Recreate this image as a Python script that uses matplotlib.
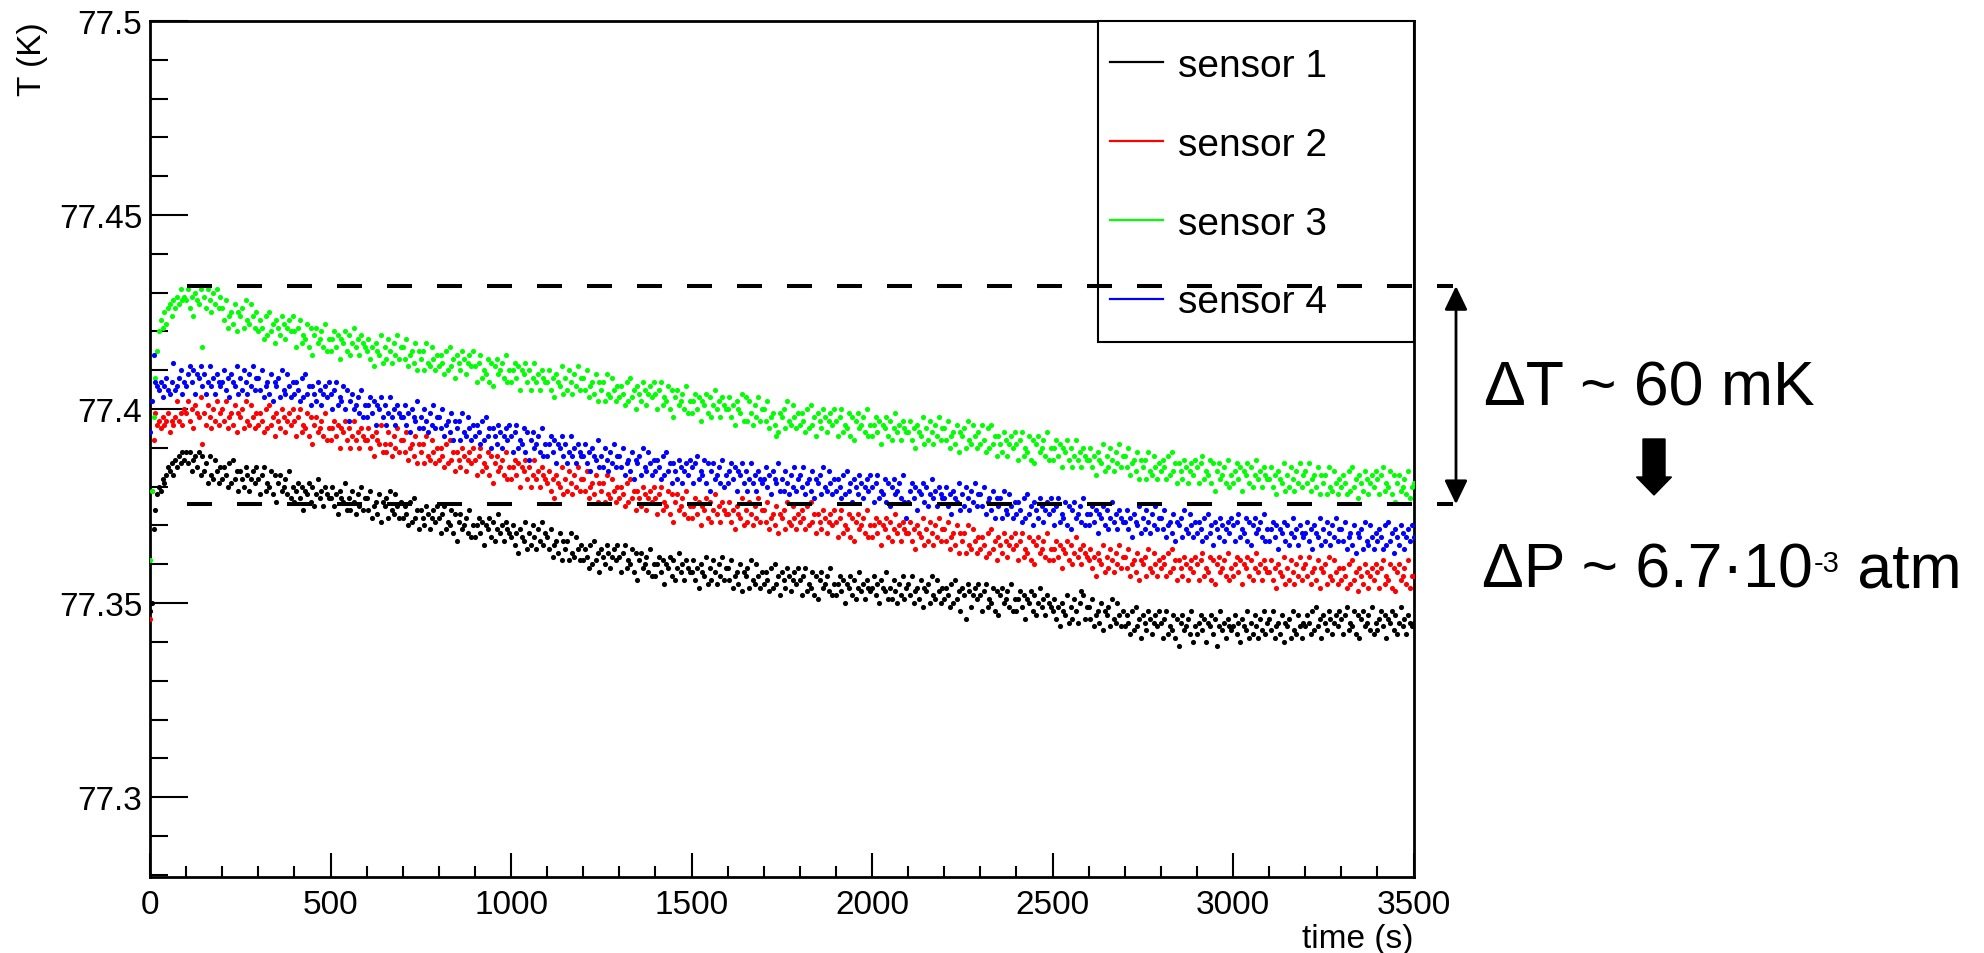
import numpy as np
import matplotlib
matplotlib.use("Agg")
import matplotlib.pyplot as plt
from matplotlib.ticker import MultipleLocator
from matplotlib.lines import Line2D
from matplotlib.patches import Rectangle, FancyArrow

plt.rcParams['font.family'] = ['Liberation Sans', 'DejaVu Sans']
plt.rcParams['lines.scale_dashes'] = False

# ---------------- data (temperature offsets in mK above T0) ----------------
T0 = 77.300          # K
t_start, t_end = 0.0, 3500.0   # s, sampling window (uniform sampling, 5 s)

sensor3_mK = [  # green
 61, 79, 98, 108, 115, 120, 123, 121, 125, 122, 126, 127, 124, 128, 126, 129, 127, 131, 128, 129,
 128, 131, 126, 129, 124, 130, 128, 127, 131, 116, 129, 126, 131, 128, 125, 130, 127, 131, 126, 129,
 126, 123, 128, 121, 124, 125, 122, 127, 120, 125, 124, 126, 121, 128, 123, 122, 127, 124, 121, 125,
 120, 123, 121, 118, 124, 119, 125, 120, 122, 117, 123, 121, 119, 124, 122, 118, 121, 123, 120, 124,
 120, 116, 121, 123, 117, 119, 118, 122, 116, 121, 114, 119, 121, 117, 118, 120, 116, 122, 115, 118,
 115, 118, 120, 116, 119, 113, 118, 117, 120, 115, 119, 114, 117, 121, 116, 118, 114, 119, 117, 116,
 115, 118, 113, 116, 111, 117, 115, 114, 119, 112, 116, 113, 118, 115, 112, 117, 114, 119, 113, 116,
 116, 113, 118, 111, 114, 115, 112, 117, 110, 115, 113, 115, 110, 117, 112, 111, 116, 113, 110, 114,
 111, 114, 112, 109, 115, 110, 116, 111, 113, 108, 114, 112, 110, 115, 113, 109, 112, 114, 111, 115,
 111, 107, 112, 114, 108, 110, 109, 113, 107, 112, 106, 111, 113, 109, 110, 112, 108, 114, 107, 110,
 107, 110, 112, 108, 111, 105, 110, 109, 112, 107, 110, 105, 108, 112, 107, 109, 105, 110, 108, 107,
 107, 110, 105, 108, 103, 109, 107, 106, 111, 104, 108, 105, 110, 107, 104, 109, 106, 111, 105, 108,
 108, 105, 110, 103, 106, 107, 104, 109, 102, 107, 105, 107, 102, 109, 104, 103, 108, 105, 102, 106,
 103, 106, 104, 101, 107, 102, 108, 103, 105, 100, 106, 104, 102, 107, 105, 101, 104, 106, 103, 107,
 104, 100, 105, 107, 101, 103, 102, 106, 100, 105, 98, 103, 105, 101, 102, 104, 100, 106, 99, 102,
 99, 102, 104, 100, 103, 97, 102, 101, 104, 99, 103, 98, 101, 105, 100, 102, 98, 103, 101, 100,
 100, 103, 98, 101, 96, 102, 100, 99, 104, 97, 103, 97, 102, 99, 96, 101, 98, 103, 97, 100,
 100, 97, 102, 95, 98, 99, 96, 93, 94, 99, 98, 100, 95, 102, 97, 96, 101, 98, 95, 99,
 96, 99, 97, 94, 100, 95, 101, 96, 98, 93, 99, 97, 95, 100, 98, 94, 97, 99, 96, 100,
 97, 93, 98, 100, 94, 96, 95, 99, 93, 98, 92, 97, 99, 95, 96, 98, 94, 100, 93, 96,
 93, 96, 98, 94, 97, 91, 96, 95, 98, 93, 97, 92, 95, 99, 94, 96, 92, 97, 95, 94,
 94, 97, 92, 95, 90, 96, 94, 93, 98, 91, 95, 92, 97, 94, 91, 96, 93, 98, 92, 95,
 95, 92, 97, 90, 93, 94, 91, 96, 89, 94, 93, 95, 90, 97, 92, 91, 96, 93, 90, 94,
 91, 96, 92, 89, 95, 90, 96, 91, 93, 88, 93, 91, 89, 94, 92, 88, 91, 93, 90, 94,
 91, 87, 92, 94, 88, 90, 89, 93, 87, 92, 86, 91, 93, 89, 90, 92, 88, 94, 87, 90,
 87, 90, 92, 88, 91, 85, 90, 89, 92, 87, 90, 85, 88, 92, 87, 89, 85, 90, 88, 87,
 87, 90, 85, 88, 83, 89, 87, 86, 91, 84, 88, 85, 90, 87, 84, 89, 86, 91, 85, 88,
 88, 85, 90, 83, 86, 87, 84, 89, 82, 87, 85, 87, 82, 89, 84, 83, 88, 85, 82, 86,
 84, 87, 85, 82, 88, 83, 89, 84, 86, 81, 86, 84, 82, 87, 85, 81, 84, 86, 83, 87,
 85, 81, 86, 88, 82, 84, 83, 87, 81, 86, 79, 84, 86, 82, 83, 85, 81, 87, 80, 83,
 81, 84, 86, 82, 85, 79, 84, 83, 86, 81, 85, 80, 83, 87, 82, 84, 80, 85, 83, 82,
 82, 85, 80, 83, 78, 84, 82, 81, 86, 79, 83, 80, 85, 82, 79, 84, 81, 86, 80, 83,
 84, 81, 86, 79, 82, 83, 80, 85, 78, 83, 81, 83, 78, 85, 80, 79, 84, 81, 78, 82,
 80, 83, 81, 78, 84, 79, 85, 80, 82, 77, 83, 81, 79, 84, 82, 78, 81, 83, 80, 84,
 82, 78, 83, 85, 79, 81, 80, 84, 78, 83, 76, 81, 83, 79, 80, 82, 78, 84, 77, 80,
 81]

sensor4_mK = [  # blue
 94, 102, 114, 107, 106, 105, 107, 103, 106, 108, 105, 104, 107, 112, 105, 106, 108, 110, 104, 107,
 106, 109, 111, 107, 110, 104, 109, 108, 111, 106, 109, 104, 107, 111, 106, 108, 104, 109, 107, 106,
 107, 110, 105, 108, 103, 109, 107, 106, 111, 104, 108, 105, 110, 107, 104, 109, 106, 111, 105, 108,
 108, 105, 110, 103, 106, 107, 104, 109, 102, 107, 106, 108, 103, 110, 105, 104, 109, 106, 103, 107,
 104, 107, 105, 102, 108, 103, 109, 104, 106, 101, 106, 104, 102, 107, 105, 101, 104, 106, 103, 107,
 104, 100, 105, 107, 101, 103, 102, 106, 100, 105, 97, 102, 104, 100, 101, 103, 99, 105, 98, 101,
 98, 101, 103, 99, 102, 96, 101, 100, 103, 98, 101, 96, 99, 103, 98, 100, 96, 101, 99, 98,
 98, 101, 96, 99, 94, 100, 98, 97, 102, 95, 98, 95, 100, 97, 94, 99, 96, 101, 95, 98,
 98, 95, 100, 93, 96, 97, 94, 99, 92, 97, 95, 97, 92, 99, 94, 93, 98, 95, 92, 96,
 93, 96, 94, 91, 97, 92, 98, 93, 95, 90, 95, 93, 91, 96, 94, 90, 93, 95, 92, 96,
 93, 89, 94, 96, 90, 92, 91, 95, 89, 94, 87, 92, 94, 90, 91, 93, 89, 95, 88, 91,
 88, 91, 93, 89, 92, 86, 91, 90, 93, 88, 91, 86, 89, 93, 88, 90, 86, 91, 89, 88,
 88, 91, 86, 89, 84, 90, 88, 87, 92, 85, 88, 85, 90, 87, 84, 89, 86, 91, 85, 88,
 88, 85, 90, 83, 86, 87, 84, 89, 82, 87, 86, 88, 83, 90, 85, 84, 89, 86, 83, 87,
 84, 87, 85, 82, 88, 83, 89, 84, 86, 81, 86, 84, 82, 87, 85, 81, 84, 86, 83, 87,
 85, 81, 86, 88, 82, 84, 83, 87, 81, 86, 79, 84, 86, 82, 83, 85, 81, 87, 80, 83,
 81, 84, 86, 82, 85, 79, 84, 83, 86, 81, 84, 79, 82, 86, 81, 83, 79, 84, 82, 81,
 82, 85, 80, 83, 78, 84, 82, 81, 86, 79, 82, 79, 84, 81, 78, 83, 80, 85, 79, 82,
 83, 80, 85, 78, 81, 82, 79, 84, 77, 82, 81, 83, 78, 85, 80, 79, 84, 81, 78, 82,
 79, 82, 80, 77, 83, 78, 84, 79, 81, 76, 82, 80, 78, 83, 81, 77, 80, 82, 79, 83,
 80, 76, 81, 83, 77, 79, 78, 82, 76, 81, 75, 80, 82, 78, 79, 81, 77, 83, 76, 72,
 76, 79, 81, 77, 80, 74, 79, 78, 81, 76, 80, 75, 78, 82, 77, 79, 75, 80, 78, 77,
 77, 80, 75, 78, 73, 79, 77, 76, 81, 74, 78, 75, 80, 77, 74, 79, 76, 81, 75, 78,
 78, 75, 80, 73, 76, 77, 74, 79, 72, 77, 75, 77, 72, 79, 74, 73, 78, 75, 72, 76,
 73, 76, 74, 71, 77, 72, 78, 73, 75, 70, 76, 74, 72, 77, 75, 71, 74, 76, 73, 77,
 74, 70, 75, 77, 71, 73, 72, 76, 70, 75, 69, 74, 76, 72, 73, 75, 71, 77, 70, 73,
 70, 73, 75, 71, 74, 68, 73, 72, 75, 70, 74, 69, 72, 76, 71, 73, 69, 74, 72, 71,
 71, 74, 69, 72, 67, 73, 71, 70, 75, 68, 72, 69, 74, 71, 68, 73, 70, 75, 69, 72,
 72, 69, 74, 67, 70, 71, 68, 73, 66, 71, 70, 72, 67, 74, 69, 68, 73, 70, 67, 71,
 68, 71, 69, 66, 72, 67, 73, 68, 70, 65, 71, 69, 67, 72, 70, 66, 69, 71, 68, 72,
 70, 66, 71, 73, 67, 69, 68, 72, 66, 71, 65, 70, 72, 68, 69, 71, 67, 73, 66, 69,
 66, 69, 71, 67, 70, 64, 69, 68, 71, 66, 70, 65, 68, 72, 67, 69, 65, 70, 68, 67,
 68, 71, 66, 69, 64, 70, 68, 67, 72, 65, 69, 66, 71, 68, 65, 70, 67, 72, 66, 69,
 69, 66, 71, 64, 67, 68, 65, 70, 63, 68, 67, 69, 64, 71, 66, 65, 70, 67, 64, 68,
 66, 69, 67, 64, 70, 65, 71, 66, 68, 63, 69, 67, 65, 70, 68, 64, 67, 69, 66, 70,
 67]

sensor2_mK = [  # red
 46, 79, 92, 99, 96, 97, 95, 98, 96, 97, 99, 94, 97, 96, 98, 102, 97, 99, 96, 100,
 99, 102, 97, 100, 95, 101, 99, 98, 103, 91, 99, 96, 101, 98, 95, 100, 97, 102, 96, 99,
 100, 97, 102, 95, 98, 99, 96, 101, 94, 99, 98, 100, 95, 102, 97, 96, 101, 98, 95, 99,
 96, 99, 97, 94, 100, 95, 101, 96, 98, 93, 99, 97, 95, 100, 98, 94, 97, 99, 96, 100,
 97, 93, 98, 100, 94, 96, 95, 99, 93, 98, 91, 96, 98, 94, 95, 97, 93, 99, 92, 95,
 92, 95, 97, 93, 96, 90, 95, 94, 97, 92, 95, 90, 93, 97, 92, 94, 90, 95, 93, 92,
 92, 95, 90, 93, 88, 94, 92, 91, 96, 89, 91, 89, 94, 91, 88, 93, 90, 95, 89, 92,
 92, 89, 94, 87, 90, 91, 88, 93, 86, 91, 89, 91, 86, 93, 88, 87, 92, 89, 86, 90,
 87, 90, 88, 85, 91, 86, 92, 87, 89, 84, 89, 87, 85, 90, 88, 84, 87, 89, 86, 90,
 87, 83, 88, 90, 84, 86, 85, 89, 83, 88, 81, 86, 88, 84, 85, 87, 83, 89, 82, 85,
 82, 85, 87, 83, 86, 80, 85, 84, 87, 82, 85, 80, 83, 87, 82, 84, 80, 85, 83, 82,
 81, 84, 79, 82, 77, 83, 81, 80, 85, 78, 82, 79, 84, 81, 78, 83, 80, 85, 79, 82,
 82, 79, 84, 77, 80, 81, 78, 83, 76, 81, 79, 81, 76, 83, 78, 77, 82, 79, 76, 80,
 77, 80, 78, 75, 81, 76, 82, 77, 79, 74, 79, 77, 75, 80, 78, 74, 77, 79, 76, 80,
 77, 73, 78, 80, 74, 76, 75, 79, 73, 78, 71, 76, 78, 74, 75, 77, 73, 79, 72, 75,
 72, 75, 77, 73, 76, 70, 75, 74, 77, 72, 76, 71, 74, 78, 73, 75, 71, 76, 74, 73,
 73, 76, 71, 74, 69, 75, 73, 72, 77, 70, 74, 71, 76, 73, 70, 75, 72, 77, 71, 74,
 74, 71, 76, 69, 72, 73, 70, 75, 68, 73, 72, 74, 69, 76, 71, 70, 75, 72, 69, 73,
 71, 74, 72, 69, 75, 70, 76, 71, 73, 68, 73, 71, 69, 74, 72, 68, 71, 73, 70, 74,
 71, 67, 72, 74, 68, 70, 69, 73, 67, 72, 66, 71, 73, 69, 70, 72, 68, 74, 67, 70,
 67, 70, 72, 68, 71, 65, 70, 69, 72, 67, 71, 66, 69, 73, 68, 70, 66, 71, 69, 68,
 68, 71, 66, 69, 64, 70, 68, 67, 72, 65, 69, 66, 71, 68, 65, 70, 67, 72, 66, 69,
 69, 66, 71, 64, 67, 68, 65, 70, 63, 68, 66, 68, 63, 70, 65, 64, 69, 66, 63, 67,
 64, 67, 65, 62, 68, 63, 69, 64, 66, 61, 67, 65, 63, 68, 66, 62, 65, 67, 64, 68,
 65, 61, 66, 68, 62, 64, 63, 67, 61, 66, 60, 65, 67, 63, 64, 66, 62, 68, 61, 64,
 61, 64, 66, 62, 65, 59, 64, 63, 66, 61, 65, 60, 63, 67, 62, 64, 60, 65, 63, 62,
 61, 64, 59, 62, 57, 63, 61, 60, 65, 58, 62, 59, 64, 61, 58, 63, 60, 65, 59, 62,
 62, 59, 64, 57, 60, 61, 58, 63, 56, 61, 60, 62, 57, 64, 59, 58, 63, 60, 57, 61,
 59, 62, 60, 57, 63, 58, 64, 59, 61, 56, 61, 59, 57, 62, 60, 56, 59, 61, 58, 62,
 60, 56, 61, 63, 57, 59, 58, 62, 56, 61, 55, 60, 62, 58, 59, 61, 57, 63, 56, 59,
 57, 60, 62, 58, 61, 55, 60, 59, 62, 57, 61, 56, 59, 63, 58, 60, 56, 61, 59, 58,
 58, 61, 56, 59, 54, 60, 58, 57, 62, 55, 59, 56, 61, 58, 55, 60, 57, 62, 56, 59,
 60, 57, 62, 55, 58, 59, 56, 61, 54, 59, 58, 60, 55, 62, 57, 56, 61, 58, 55, 59,
 56, 59, 57, 54, 60, 55, 61, 56, 58, 53, 59, 57, 55, 60, 58, 54, 57, 59, 56, 60,
 58, 54, 59, 61, 55, 57, 56, 60, 54, 59, 53, 58, 60, 56, 57, 59, 55, 61, 54, 57,
 57]

sensor1_mK = [  # black
 48, 50, 69, 74, 78, 80, 79, 82, 81, 83, 85, 84, 86, 83, 87, 85, 88, 86, 89, 87,
 89, 86, 89, 84, 87, 88, 85, 89, 83, 88, 84, 86, 81, 88, 83, 82, 87, 84, 81, 85,
 82, 85, 83, 80, 86, 81, 87, 82, 84, 79, 84, 82, 80, 85, 83, 79, 82, 84, 81, 85,
 82, 78, 83, 85, 79, 81, 80, 84, 78, 83, 76, 81, 83, 79, 80, 82, 78, 84, 77, 80,
 76, 79, 81, 77, 80, 74, 79, 78, 81, 76, 80, 75, 78, 82, 77, 79, 75, 80, 78, 77,
 77, 80, 75, 78, 73, 79, 77, 76, 81, 74, 77, 74, 79, 76, 73, 78, 75, 80, 74, 77,
 77, 74, 79, 72, 75, 76, 73, 78, 71, 76, 75, 77, 72, 79, 74, 73, 78, 75, 72, 76,
 72, 75, 73, 70, 76, 71, 77, 72, 74, 69, 74, 72, 70, 75, 73, 69, 72, 74, 71, 75,
 72, 68, 73, 75, 69, 71, 70, 74, 68, 73, 66, 71, 73, 69, 70, 72, 68, 74, 67, 70,
 67, 70, 72, 68, 71, 65, 70, 69, 72, 67, 71, 66, 69, 73, 68, 70, 66, 71, 69, 68,
 67, 70, 65, 68, 63, 69, 67, 66, 71, 64, 68, 65, 70, 67, 64, 69, 66, 71, 65, 68,
 67, 64, 69, 62, 65, 66, 63, 68, 61, 66, 64, 66, 61, 68, 63, 62, 67, 64, 61, 65,
 61, 64, 62, 59, 65, 60, 66, 61, 63, 58, 64, 62, 60, 65, 63, 59, 62, 64, 61, 65,
 62, 58, 63, 65, 59, 61, 60, 64, 58, 63, 56, 61, 63, 59, 60, 62, 58, 64, 57, 60,
 57, 60, 62, 58, 61, 55, 60, 59, 62, 57, 61, 56, 59, 63, 58, 60, 56, 61, 59, 58,
 58, 61, 56, 59, 54, 60, 58, 57, 62, 55, 59, 56, 61, 58, 55, 60, 57, 62, 56, 59,
 59, 56, 61, 54, 57, 58, 55, 60, 53, 58, 57, 59, 54, 61, 56, 55, 60, 57, 54, 58,
 55, 58, 56, 53, 59, 54, 60, 55, 57, 52, 58, 56, 54, 59, 57, 53, 56, 58, 55, 59,
 56, 52, 57, 59, 53, 55, 54, 58, 52, 57, 51, 56, 58, 54, 55, 57, 53, 59, 52, 55,
 52, 55, 57, 53, 56, 50, 55, 54, 57, 52, 56, 51, 54, 58, 53, 55, 51, 56, 54, 53,
 54, 57, 52, 55, 50, 56, 54, 53, 58, 51, 54, 51, 56, 53, 50, 55, 52, 57, 51, 54,
 55, 52, 57, 50, 53, 54, 51, 56, 49, 54, 53, 55, 50, 57, 52, 51, 56, 53, 50, 54,
 51, 54, 52, 49, 55, 50, 56, 51, 53, 48, 54, 52, 46, 55, 53, 49, 52, 54, 51, 55,
 52, 48, 53, 55, 49, 51, 50, 54, 48, 53, 47, 52, 54, 50, 51, 53, 49, 55, 48, 51,
 48, 51, 53, 49, 52, 46, 51, 50, 53, 48, 52, 47, 50, 54, 49, 51, 47, 52, 50, 49,
 48, 51, 46, 49, 44, 50, 48, 47, 52, 45, 49, 46, 51, 48, 45, 50, 53, 52, 46, 49,
 49, 46, 51, 44, 47, 48, 45, 50, 43, 48, 47, 49, 44, 51, 46, 45, 50, 47, 44, 48,
 44, 47, 45, 42, 48, 43, 49, 44, 46, 41, 47, 45, 43, 48, 46, 42, 45, 47, 44, 48,
 45, 41, 46, 48, 42, 44, 43, 47, 41, 46, 39, 45, 47, 43, 44, 46, 42, 48, 40, 44,
 42, 45, 47, 43, 46, 40, 45, 44, 47, 42, 46, 39, 44, 48, 43, 45, 41, 46, 44, 43,
 44, 47, 42, 45, 40, 46, 44, 43, 48, 41, 45, 42, 47, 44, 41, 46, 43, 48, 42, 45,
 46, 43, 48, 41, 44, 45, 42, 47, 40, 45, 44, 46, 41, 48, 43, 42, 47, 44, 41, 45,
 44, 47, 45, 42, 48, 43, 49, 44, 46, 41, 47, 45, 43, 48, 46, 42, 45, 47, 44, 48,
 46, 42, 47, 49, 43, 45, 44, 48, 42, 47, 41, 46, 48, 44, 45, 47, 43, 49, 42, 45,
 43, 46, 48, 44, 47, 41, 46, 45, 48, 43, 47, 42, 45, 49, 44, 46, 42, 47, 45, 44,
 45]

labels = ["sensor 1", "sensor 2", "sensor 3", "sensor 4"]
colors = ["#000000", "#ff0000", "#00ff00", "#0000ff"]
series = [sensor1_mK, sensor2_mK, sensor3_mK, sensor4_mK]

x_ticks = [0, 500, 1000, 1500, 2000, 2500, 3000, 3500]
x_ticklabels = ["0", "500", "1000", "1500", "2000", "2500", "3000", "3500"]
y_ticks = [77.3, 77.35, 77.4, 77.45, 77.5]
y_ticklabels = ["77.3", "77.35", "77.4", "77.45", "77.5"]

# annotation levels (K)
band_top = 77.4317
band_bottom = 77.3755
dT_text = "ΔT ~ 60 mK"
dP_main, dP_exp, dP_unit = "ΔP ~ 6.7·10", "-3", " atm"

# ---------------- figure ----------------
W, H, DPI = 1984, 954, 100
fig = plt.figure(figsize=(W / DPI, H / DPI), dpi=DPI)
ax_l, ax_r, ax_t, ax_b = 150, 1413.5, 22, 877.7
ax = fig.add_axes([ax_l / W, 1 - ax_b / H, (ax_r - ax_l) / W, (ax_b - ax_t) / H])

for vals, c in zip(series, colors):
    v = np.asarray(vals, dtype=float)
    t = np.linspace(t_start, t_end, len(v))
    ax.plot(t, T0 + v / 1000.0, linestyle="none", marker="o", ms=3.7, mew=0,
            color=c, zorder=3)

ax.set_xlim(0, 3500)
ax.set_ylim(77.2795, 77.5)
ax.set_xticks(x_ticks)
ax.set_xticklabels(x_ticklabels)
ax.set_yticks(y_ticks)
ax.set_yticklabels(y_ticklabels)
ax.xaxis.set_minor_locator(MultipleLocator(100))
ax.yaxis.set_minor_locator(MultipleLocator(0.01))

ax.tick_params(axis="both", which="both", direction="in", top=False, right=False,
               width=1.5, labelsize=24)
ax.tick_params(axis="x", which="major", length=17, pad=9)
ax.tick_params(axis="x", which="minor", length=8)
ax.tick_params(axis="y", which="major", length=27.5, pad=5.5)
ax.tick_params(axis="y", which="minor", length=13)
for sp in ax.spines.values():
    sp.set_linewidth(2)

ax.set_xlabel("time (s)", fontsize=24, loc="right")
ax.xaxis.label.set_verticalalignment("baseline")
ax.xaxis.set_label_coords(1.0, (ax_b - 948) / (ax_b - ax_t))
ax.set_ylabel("T (K)", fontsize=24, loc="top")
ax.yaxis.set_label_coords((48 - ax_l) / (ax_r - ax_l), 1.0)


def fx(px):
    return (px - ax_l) / (ax_r - ax_l)


def fy(py):
    return (ax_b - py) / (ax_b - ax_t)


# legend box (ROOT-style fixed size)
ax.add_patch(Rectangle((fx(1098), fy(343)), 1 - fx(1098), 1 - fy(343),
                       transform=ax.transAxes, facecolor="white", edgecolor="black",
                       lw=1.5, zorder=4, clip_on=False))
handles = [Line2D([], [], color=c, lw=1.6) for c in colors]
leg = ax.legend(handles, labels, loc="upper left",
                bbox_to_anchor=(fx(1110), fy(49)), borderpad=0, borderaxespad=0,
                frameon=False, fontsize=28, handlelength=1.36, handletextpad=0.38,
                labelspacing=1.1)
leg.set_zorder(5)

# dashed band lines
def x_px_to_t(px):
    return (px - ax_l) / (ax_r - ax_l) * 3500


for lvl in (band_top, band_bottom):
    ax.plot([x_px_to_t(187), x_px_to_t(1453)], [lvl, lvl], color="black", lw=2.9,
            linestyle=(0, (18, 18)), clip_on=False, zorder=6,
            dash_capstyle="butt")

# double arrow
ax.annotate("", xy=(x_px_to_t(1456), band_top), xytext=(x_px_to_t(1456), band_bottom),
            arrowprops=dict(arrowstyle="<|-|>,head_length=1.45,head_width=0.7",
                            mutation_scale=10, lw=2, color="black",
                            shrinkA=0, shrinkB=0),
            annotation_clip=False)

# thick down arrow (figure inches)
fig.add_artist(FancyArrow(1654 / DPI, (H - 440) / DPI, 0, -(496 - 440) / DPI,
                          width=22 / DPI, head_width=35 / DPI, head_length=18 / DPI,
                          length_includes_head=True, color="black",
                          transform=fig.dpi_scale_trans))

BIG = 45
fig.text(1484 / W, 1 - 405 / H, dT_text, fontsize=BIG, va="baseline", ha="left")
t1 = fig.text(1482 / W, 1 - 587 / H, dP_main, fontsize=BIG, va="baseline", ha="left")
fig.canvas.draw()
r = fig.canvas.get_renderer()
bb = t1.get_window_extent(r)
t2 = fig.text((bb.x1 + 1) / W, 1 - 572 / H, dP_exp, fontsize=21, va="baseline", ha="left")
bb2 = t2.get_window_extent(r)
fig.text(bb2.x1 / W, 1 - 587 / H, dP_unit, fontsize=BIG, va="baseline", ha="left")

fig.savefig("out.png", dpi=DPI)
